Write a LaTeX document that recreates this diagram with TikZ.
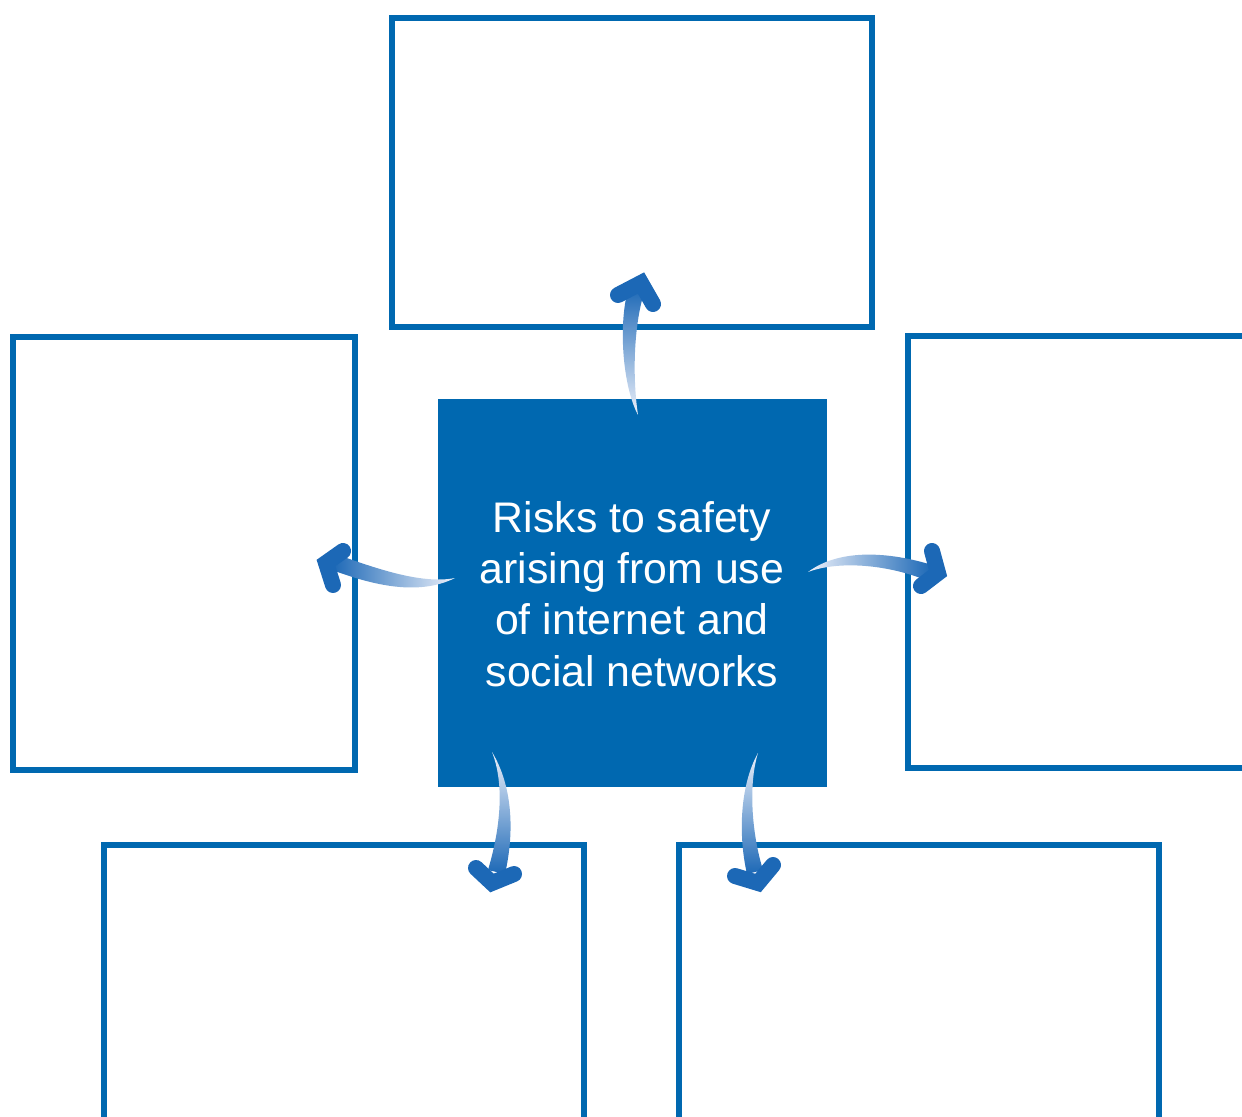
\documentclass[tikz,border=0pt]{standalone}
\usepackage{fontspec}
\setmainfont{Liberation Sans}
\definecolor{boxblue}{RGB}{0,104,176}
\definecolor{headblue}{RGB}{28,104,182}
\definecolor{tailwhite}{RGB}{236,240,250}
\begin{document}
\begin{tikzpicture}[x=0.5pt,y=-0.5pt,
  box/.style={draw=boxblue, line width=3pt, inner sep=0pt, outer sep=0pt, anchor=north west},
  core/.style={fill=boxblue, inner sep=0pt, outer sep=0pt, anchor=north west},
  chev/.style={draw=headblue, line width=8pt, line cap=round, line join=miter},
]
\useasboundingbox (0,0) rectangle (1242,1117);
\clip (0,0) rectangle (1242,1117);
\node[box, minimum width=240pt, minimum height=154.5pt] (top) at (392,18) {};
\node[box, minimum width=171pt, minimum height=216.5pt] (left) at (13,337) {};
\node[box, minimum width=200pt, minimum height=216pt] (right) at (908,336) {};
\node[box, minimum width=240pt, minimum height=200pt] (bl) at (104,845) {};
\node[box, minimum width=240pt, minimum height=200pt] (br) at (679,845) {};
\node[core, minimum width=194.5pt, minimum height=194pt] (c) at (438,399) {};
\node[text=white, align=center, font=\fontsize{21.4pt}{25.6pt}\selectfont] (ct) at (632,594)
  {Risks to safety\\arising from use\\of internet and\\social networks};
% top arrow
\shade[top color=headblue, bottom color=tailwhite]
  (638,415) .. controls (622,385) and (618,320) .. (629,287)
  -- (645,290) .. controls (634,322) and (632,375) .. (638,415) -- cycle;
\draw[chev] (618,295) -- (641,283) -- (653,304);
% left arrow
\shade[left color=headblue, right color=tailwhite]
  (455,578) .. controls (420,585) and (370,566) .. (338,555)
  -- (332,570) .. controls (365,582) and (415,598) .. (455,578) -- cycle;
\draw[chev] (343,551) -- (326,563) -- (333,585);
% right arrow
\shade[left color=tailwhite, right color=headblue]
  (808,572) .. controls (840,548) and (890,552) .. (932,565)
  -- (928,581) .. controls (890,565) and (840,560) .. (808,572) -- cycle;
\draw[chev] (932,551) -- (938,573) -- (921,586);
% bottom-left arrow
\shade[top color=tailwhite, bottom color=headblue]
  (492,752) .. controls (505,785) and (500,830) .. (488,870)
  -- (505,874) .. controls (515,830) and (512,785) .. (492,752) -- cycle;
\draw[chev] (476,868) -- (492,883) -- (514,874);
% bottom-right arrow
\shade[top color=tailwhite, bottom color=headblue]
  (758,753) .. controls (740,785) and (738,835) .. (747,874)
  -- (763,870) .. controls (752,835) and (748,785) .. (758,753) -- cycle;
\draw[chev] (735,876) -- (758,883) -- (773,865);
\end{tikzpicture}
\end{document}
